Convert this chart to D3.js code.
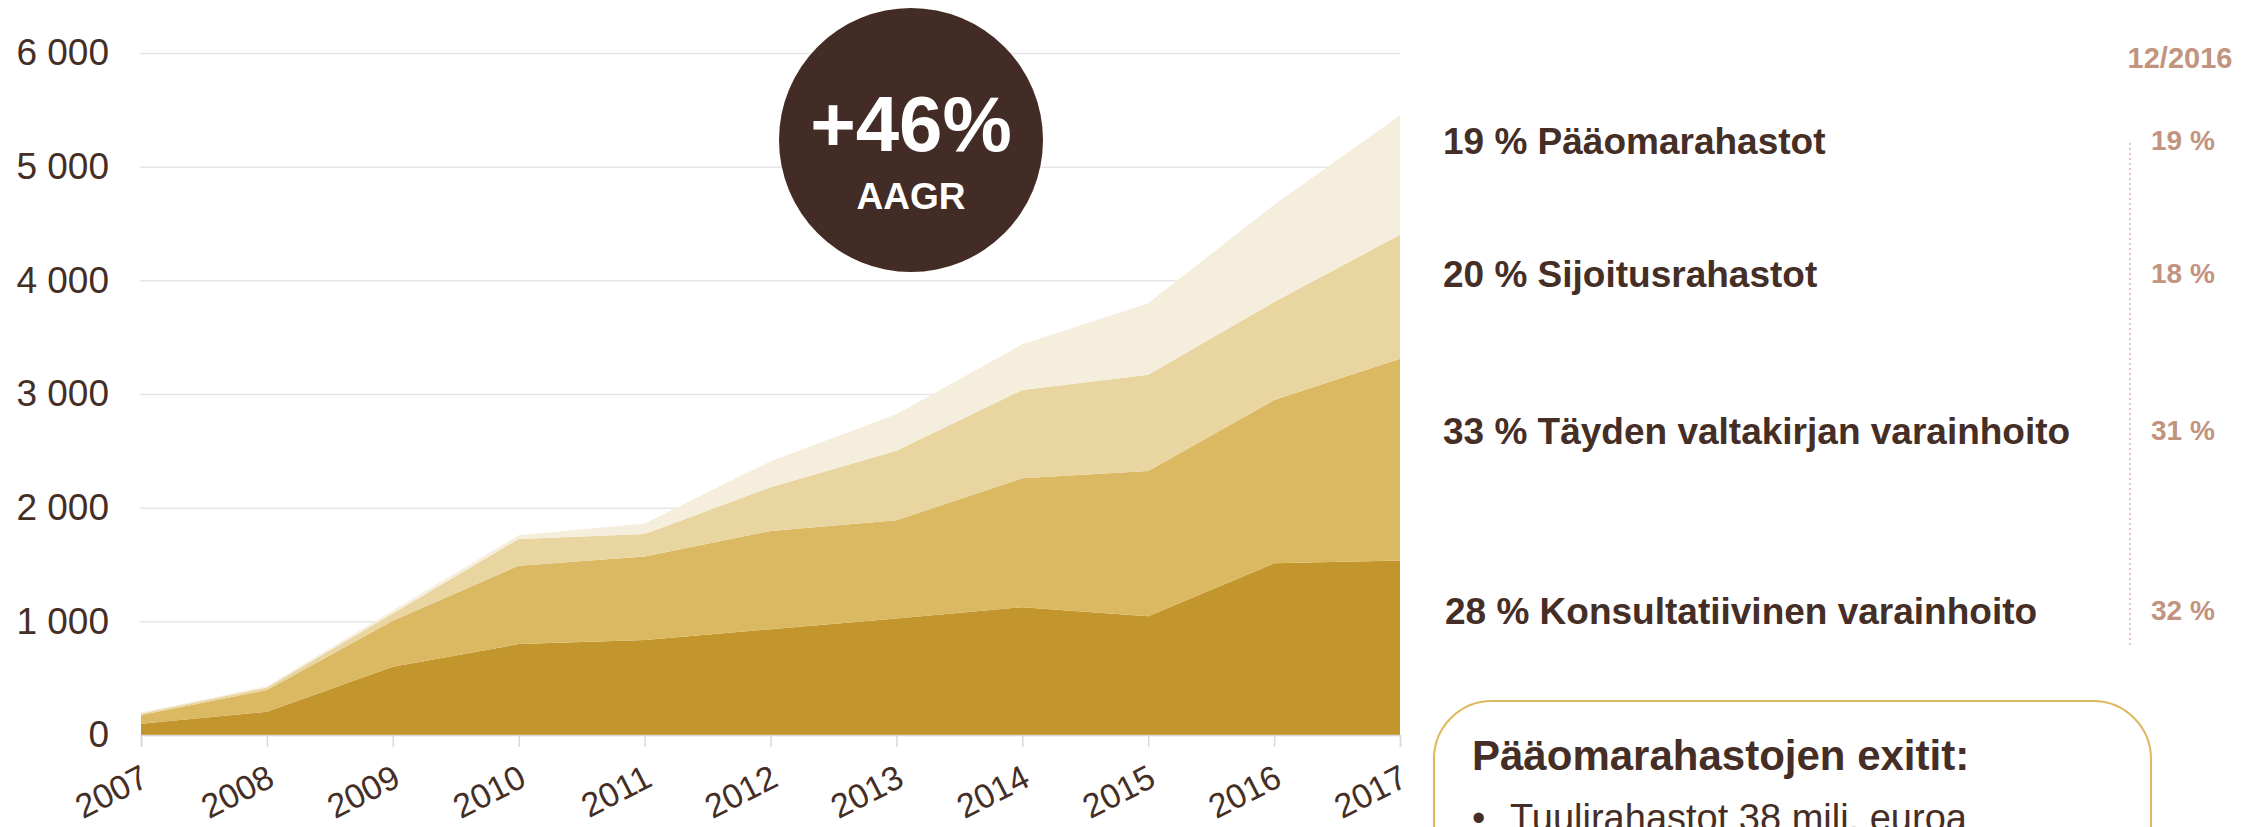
<!DOCTYPE html>
<html>
<head>
<meta charset="utf-8">
<script src="https://cdn.jsdelivr.net/npm/d3@7"></script>
<style>
	body { margin:0; background:#fff; }
	svg { display:block; font-family:"Liberation Sans", Arial, sans-serif; }
</style>
</head>
<body>
<div id="ChartDiv"></div>
<script>
/* globals d3, document */

// Data (milj. euroa), bottom layer first
var Years = [2007,2008,2009,2010,2011,2012,2013,2014,2015,2016,2017];
var Konsultatiivinen = [100,205,600,800,835,930,1025,1125,1045,1510,1535];
var Valtakirja = [75,190,405,690,735,865,865,1133,1277,1437,1775];
var Sijoitusrahastot = [15,23,65,235,198,385,610,777,848,863,1090];
var Paaomarahastot = [8,10,25,33,92,228,322,402,628,855,1052];

var SeriesKeys = ["Konsultatiivinen","Valtakirja","Sijoitusrahastot","Paaomarahastot"];
var SeriesColors = ["#C3952D","#DBB862","#E9D5A0","#F6EEDC"];
var YTicks = [0,1000,2000,3000,4000,5000,6000];

// Right hand legend, top to bottom
var LegendLabels = ["19 % Pääomarahastot","20 % Sijoitusrahastot","33 % Täyden valtakirjan varainhoito","28 % Konsultatiivinen varainhoito"];
var LegendPrev = ["19 %","18 %","31 %","32 %"];
var PrevTitle = "12/2016";
var BoxTitle = "Pääomarahastojen exitit:";
var BoxBullets = ["Tuulirahastot 38 milj. euroa"];
var BadgeValue = "+46%";
var BadgeLabel = "AAGR";

var Width = 2264, Height = 827;
var TextColor = "#452E25", PrevColor = "#C2937F";

var Svg = d3.select("#ChartDiv").append("svg")
	.attr("width",Width).attr("height",Height);

var x = d3.scaleLinear().domain([2007,2017]).range([141,1400]);
var y = d3.scaleLinear().domain([0,6000]).range([735,53]);

var Rows = Years.map(function(d,i) {
	return {year:d, Konsultatiivinen:Konsultatiivinen[i], Valtakirja:Valtakirja[i],
		Sijoitusrahastot:Sijoitusrahastot[i], Paaomarahastot:Paaomarahastot[i]};
});

// Gridlines + y labels
var YAxis = Svg.append("g").attr("transform","translate(140,0)")
	.call(d3.axisLeft(y).tickValues(YTicks).tickSize(-1260)
		.tickFormat(function(d) {return d3.format(",")(d).replace(/,/g," ");}));
YAxis.select(".domain").remove();
YAxis.selectAll(".tick line").attr("stroke","#E6E6E6").attr("stroke-width",1.5);
YAxis.selectAll(".tick text").attr("x",-31).attr("fill",TextColor)
	.style("font-size","37px").style("font-family","Liberation Sans, Arial, sans-serif");

// Stacked areas
var Stack = d3.stack().keys(SeriesKeys)(Rows);
var Area = d3.area()
	.x(function(d) {return x(d.data.year);})
	.y0(function(d) {return y(d[0]);})
	.y1(function(d) {return y(d[1]);});

Svg.append("g").selectAll("path")
	.data(Stack)
	.enter().append("path")
	.attr("d",Area)
	.attr("fill",function(d,i) {return SeriesColors[i];});

// X axis with rotated year labels
var XAxis = Svg.append("g").attr("transform","translate(0,735)")
	.call(d3.axisBottom(x).tickValues(Years).tickSize(12).tickFormat(d3.format("d")));
XAxis.select(".domain").attr("stroke","#D9D9D9").attr("stroke-width",1.5);
XAxis.selectAll(".tick line").attr("stroke","#D9D9D9").attr("stroke-width",1.5);
XAxis.selectAll(".tick text")
	.attr("fill",TextColor)
	.style("font-size","34px").style("font-family","Liberation Sans, Arial, sans-serif")
	.attr("text-anchor","end")
	.attr("dy",null).attr("y",null)
	.attr("transform","translate(9,50) rotate(-27)");

// Growth badge
var Badge = Svg.append("g").attr("transform","translate(911,140)");
Badge.append("circle").attr("r",132).attr("fill","#432C25");
Badge.append("text").attr("y",11).attr("text-anchor","middle")
	.attr("fill","#fff").style("font-size","78px").style("font-weight","bold").text(BadgeValue);
Badge.append("text").attr("y",69).attr("text-anchor","middle")
	.attr("fill","#fff").style("font-size","37px").style("font-weight","bold").text(BadgeLabel);

// Legend texts on the right
var LegendY = [154,287,444,624];
Svg.append("text").attr("x",2180).attr("y",68).attr("text-anchor","middle")
	.attr("fill",PrevColor).style("font-size","29px").style("font-weight","bold").text(PrevTitle);

Svg.append("line").attr("x1",2130).attr("x2",2130).attr("y1",143).attr("y2",648)
	.attr("stroke","#E6C6BA").attr("stroke-width",2).attr("stroke-dasharray","2,3");

Svg.append("g").selectAll("text")
	.data(LegendLabels)
	.enter().append("text")
	.attr("x",function(d,i) {return i === 3 ? 1445 : 1443;})
	.attr("y",function(d,i) {return LegendY[i];})
	.attr("fill",TextColor).style("font-size","37px").style("font-weight","bold")
	.text(function(d) {return d;});

Svg.append("g").selectAll("text")
	.data(LegendPrev)
	.enter().append("text")
	.attr("x",2151)
	.attr("y",function(d,i) {return LegendY[i] - 4;})
	.attr("fill",PrevColor).style("font-size","28px").style("font-weight","bold")
	.text(function(d) {return d;});

// Exit box, runs off the bottom of the picture
Svg.append("rect").attr("x",1434).attr("y",701).attr("width",717).attr("height",260).attr("rx",58)
	.attr("fill","none").attr("stroke","#DDB85E").attr("stroke-width",2);
Svg.append("text").attr("x",1472).attr("y",770).attr("fill",TextColor)
	.style("font-size","42px").style("font-weight","bold").text(BoxTitle);
var Bullets = Svg.append("g").selectAll("g").data(BoxBullets).enter().append("g")
	.attr("transform",function(d,i) {return "translate(1472,"+(831+i*50)+")";});
Bullets.append("text").attr("fill",TextColor).style("font-size","38px").text("•");
Bullets.append("text").attr("x",38).attr("fill",TextColor).style("font-size","38px")
	.text(function(d) {return d;});
</script>
</body>
</html>
